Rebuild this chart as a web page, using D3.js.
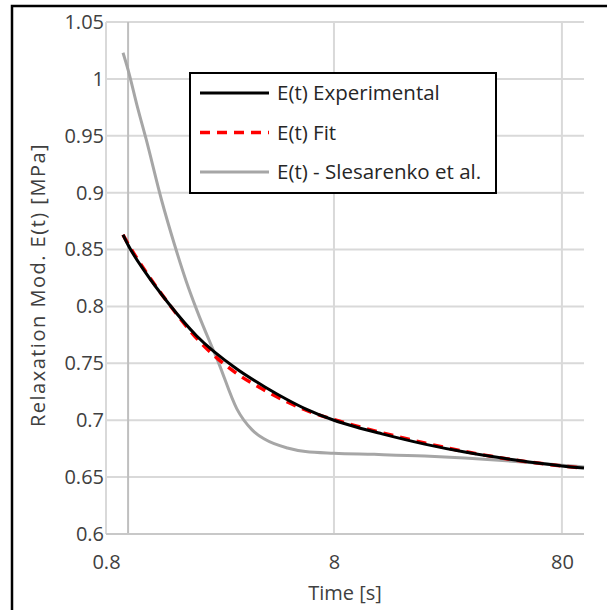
<!DOCTYPE html>
<html>
<head>
<meta charset="utf-8">
<script src="https://cdn.jsdelivr.net/npm/d3@7"></script>
<style>
  body { margin: 0; background: #fff; }
  svg { display: block; font-family: "Open Sans", sans-serif; }
</style>
</head>
<body>
<svg id="chart" width="607" height="610"></svg>
<script>
// sample times [s] for the measured / fitted curves
const times = [0.95, 1, 1.2, 1.5, 2, 3, 4, 5, 6, 8, 10, 13, 20, 30, 50, 80, 100];
const experimental = [0.863, 0.854, 0.829, 0.803, 0.774, 0.745, 0.729, 0.718, 0.710, 0.700, 0.694, 0.688, 0.679, 0.672, 0.665, 0.6598, 0.658];
const fit = [0.863, 0.855, 0.830, 0.803, 0.772, 0.741, 0.726, 0.716, 0.709, 0.7005, 0.695, 0.689, 0.680, 0.6725, 0.665, 0.6598, 0.658];

// sample times [s] for the literature curve
const timesLit = [0.95, 1, 1.1, 1.2, 1.4, 1.6, 1.8, 2, 2.5, 3, 3.5, 4, 5, 6, 8, 12, 20, 30, 50, 80, 100];
const slesarenko = [1.023, 1.008, 0.975, 0.947, 0.894, 0.854, 0.822, 0.797, 0.750, 0.710, 0.6915, 0.683, 0.6756, 0.6725, 0.671, 0.670, 0.6685, 0.6667, 0.6638, 0.6605, 0.659];

const xTicks = [0.8, 8, 80];
const xTickLabels = ["0.8", "8", "80"];
const yTicks = [0.6, 0.65, 0.7, 0.75, 0.8, 0.85, 0.9, 0.95, 1, 1.05];
const yTickLabels = ["0.6", "0.65", "0.7", "0.75", "0.8", "0.85", "0.9", "0.95", "1", "1.05"];
const yAxisCross = 1;

const series = [
  { name: "E(t) Experimental", t: times, values: experimental, color: "#000", width: 3, dash: null },
  { name: "E(t) Fit", t: times, values: fit, color: "#ff0000", width: 3.5, dash: "10,7" },
  { name: "E(t) - Slesarenko et al.", t: timesLit, values: slesarenko, color: "#a6a6a6", width: 3, dash: null }
];

const svg = d3.select("#chart");

// outer frame (only top and left edges fall inside the picture)
svg.append("rect")
  .attr("x", 12).attr("y", 6)
  .attr("width", 620).attr("height", 620)
  .attr("fill", "none").attr("stroke", "#000").attr("stroke-width", 2.5);

const x = d3.scaleLog().domain([0.8, 100]).range([106, 584]);
const y = d3.scaleLinear().domain([0.6, 1.05]).range([534, 22]);

// gridlines
svg.append("g").selectAll("line")
  .data(yTicks)
  .join("line")
  .attr("x1", x.range()[0]).attr("x2", x.range()[1])
  .attr("y1", d => y(d)).attr("y2", d => y(d))
  .attr("stroke", "#d9d9d9").attr("stroke-width", 2);

svg.append("g").selectAll("line")
  .data(xTicks)
  .join("line")
  .attr("x1", d => x(d)).attr("x2", d => x(d))
  .attr("y1", y.range()[0]).attr("y2", y.range()[1])
  .attr("stroke", "#d9d9d9").attr("stroke-width", 2);

// axis lines
svg.append("line")
  .attr("x1", x(yAxisCross)).attr("x2", x(yAxisCross))
  .attr("y1", y.range()[0]).attr("y2", y.range()[1])
  .attr("stroke", "#bfbfbf").attr("stroke-width", 2);
svg.append("line")
  .attr("x1", x.range()[0]).attr("x2", x.range()[1])
  .attr("y1", y(0.6)).attr("y2", y(0.6))
  .attr("stroke", "#c8c8c8").attr("stroke-width", 2);

// tick labels
const yAxis = svg.append("g")
  .attr("transform", "translate(" + x.range()[0] + ",0)")
  .call(d3.axisLeft(y).tickValues(yTicks).tickSize(0).tickPadding(2)
    .tickFormat((d, i) => yTickLabels[i]));
const xAxis = svg.append("g")
  .attr("transform", "translate(0," + y.range()[0] + ")")
  .call(d3.axisBottom(x).tickValues(xTicks).tickSize(0).tickPadding(21)
    .tickFormat((d, i) => xTickLabels[i]));
[yAxis, xAxis].forEach(a => {
  a.select(".domain").remove();
  a.selectAll("text").attr("font-size", 20).attr("fill", "#404040")
    .attr("font-family", "'Open Sans', sans-serif");
});

// curves
const line = d3.line().curve(d3.curveMonotoneX);
series.slice().reverse().forEach(s => {
  svg.append("path")
    .attr("d", line(s.t.map((t, i) => [x(t), y(s.values[i])])))
    .attr("fill", "none")
    .attr("stroke", s.color)
    .attr("stroke-width", s.width)
    .attr("stroke-dasharray", s.dash)
    .attr("stroke-linejoin", "round");
});

// axis titles
svg.append("text")
  .attr("x", 345).attr("y", 600)
  .attr("text-anchor", "middle")
  .attr("font-size", 20).attr("fill", "#404040")
  .text("Time [s]");
svg.append("text")
  .attr("transform", "translate(45,285) rotate(-90)")
  .attr("text-anchor", "middle")
  .attr("font-size", 20).attr("fill", "#404040")
  .attr("letter-spacing", 1.5)
  .text("Relaxation Mod. E(t) [MPa]");

// legend
const legend = svg.append("g");
legend.append("rect")
  .attr("x", 190).attr("y", 73)
  .attr("width", 306).attr("height", 120)
  .attr("fill", "#fff").attr("stroke", "#000").attr("stroke-width", 2);
series.forEach((s, i) => {
  const ly = 93 + i * 39.5;
  legend.append("line")
    .attr("x1", 200).attr("x2", 269)
    .attr("y1", ly).attr("y2", ly)
    .attr("stroke", s.color).attr("stroke-width", s.width)
    .attr("stroke-dasharray", s.dash);
  legend.append("text")
    .attr("x", 277).attr("y", ly)
    .attr("dy", "0.35em")
    .attr("font-size", 20.5).attr("fill", "#262626")
    .text(s.name);
});
</script>
</body>
</html>
